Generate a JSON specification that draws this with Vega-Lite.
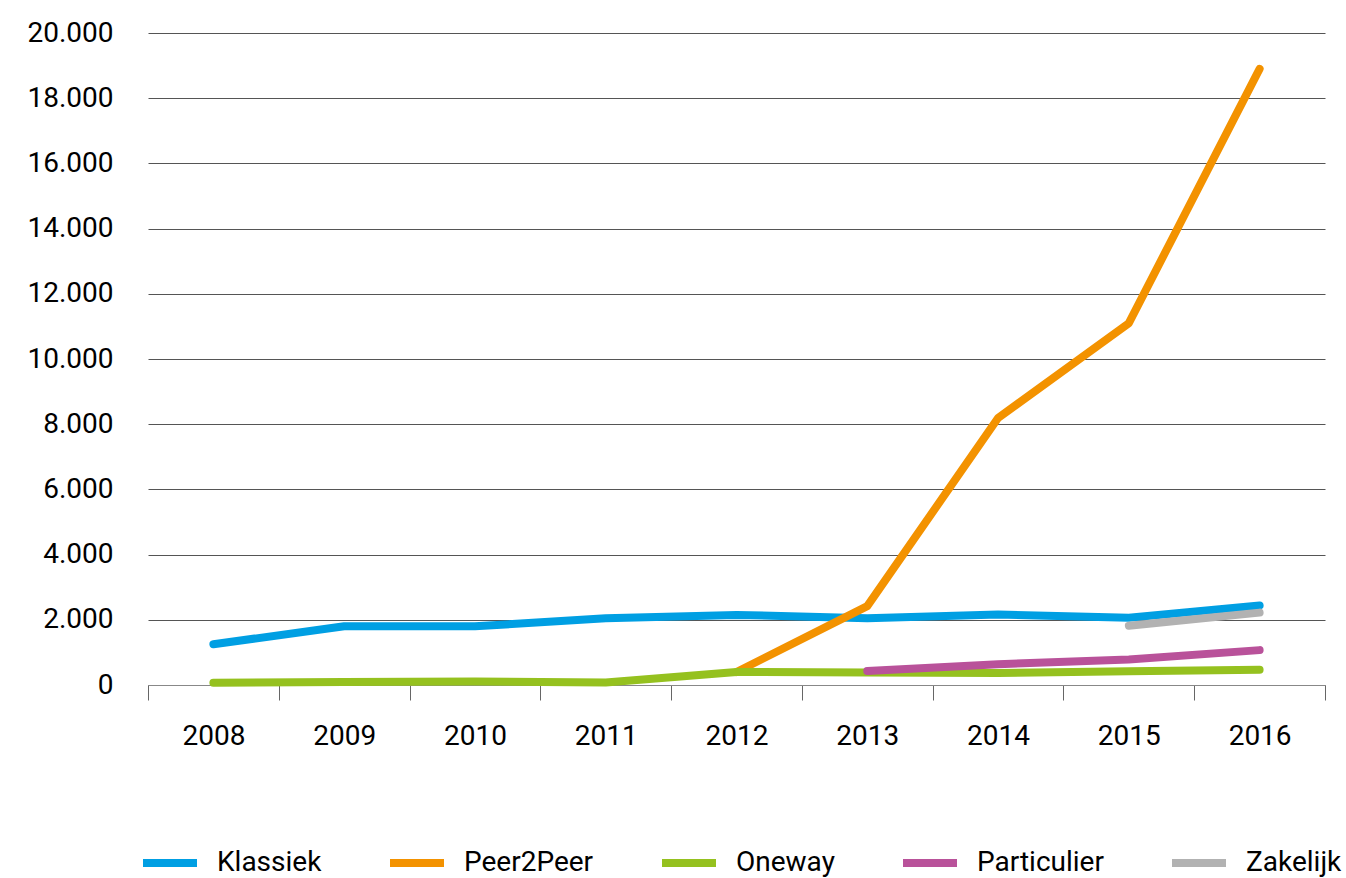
{
  "$schema": "https://vega.github.io/schema/vega-lite/v6.json",
  "width": 1177,
  "height": 652,
  "autosize": {"type": "none"},
  "padding": {"left": 148, "top": 33, "right": 21, "bottom": 193},
  "background": "white",
  "config": {
    "view": {"stroke": null},
    "font": "Roboto",
    "locale": {"number": {"decimal": ",", "thousands": ".", "grouping": [3], "currency": ["€", ""]}}
  },
  "data": {
    "values": [
      {"jaar": "2008", "reeks": "Klassiek", "waarde": 1250},
      {"jaar": "2009", "reeks": "Klassiek", "waarde": 1800},
      {"jaar": "2010", "reeks": "Klassiek", "waarde": 1800},
      {"jaar": "2011", "reeks": "Klassiek", "waarde": 2050},
      {"jaar": "2012", "reeks": "Klassiek", "waarde": 2150},
      {"jaar": "2013", "reeks": "Klassiek", "waarde": 2050},
      {"jaar": "2014", "reeks": "Klassiek", "waarde": 2160},
      {"jaar": "2015", "reeks": "Klassiek", "waarde": 2060},
      {"jaar": "2016", "reeks": "Klassiek", "waarde": 2440},
      {"jaar": "2012", "reeks": "Peer2Peer", "waarde": 400},
      {"jaar": "2013", "reeks": "Peer2Peer", "waarde": 2420},
      {"jaar": "2014", "reeks": "Peer2Peer", "waarde": 8190},
      {"jaar": "2015", "reeks": "Peer2Peer", "waarde": 11100},
      {"jaar": "2016", "reeks": "Peer2Peer", "waarde": 18900},
      {"jaar": "2008", "reeks": "Oneway", "waarde": 70},
      {"jaar": "2009", "reeks": "Oneway", "waarde": 90},
      {"jaar": "2010", "reeks": "Oneway", "waarde": 110},
      {"jaar": "2011", "reeks": "Oneway", "waarde": 80},
      {"jaar": "2012", "reeks": "Oneway", "waarde": 400},
      {"jaar": "2013", "reeks": "Oneway", "waarde": 380},
      {"jaar": "2014", "reeks": "Oneway", "waarde": 370},
      {"jaar": "2015", "reeks": "Oneway", "waarde": 420},
      {"jaar": "2016", "reeks": "Oneway", "waarde": 470},
      {"jaar": "2013", "reeks": "Particulier", "waarde": 430},
      {"jaar": "2014", "reeks": "Particulier", "waarde": 640},
      {"jaar": "2015", "reeks": "Particulier", "waarde": 780},
      {"jaar": "2016", "reeks": "Particulier", "waarde": 1070},
      {"jaar": "2015", "reeks": "Zakelijk", "waarde": 1820},
      {"jaar": "2016", "reeks": "Zakelijk", "waarde": 2220}
    ]
  },
  "mark": {"type": "line", "strokeWidth": 8, "strokeCap": "round", "strokeJoin": "round"},
  "encoding": {
    "x": {
      "field": "jaar",
      "type": "ordinal",
      "scale": {"type": "band", "paddingInner": 0, "paddingOuter": 0},
      "axis": {
        "title": null,
        "labelAngle": 0,
        "labelFontSize": 28,
        "labelColor": "#000000",
        "labelPadding": 22,
        "tickBand": "extent",
        "tickSize": 15,
        "tickColor": "#666666",
        "domainColor": "#888888",
        "grid": false
      }
    },
    "y": {
      "field": "waarde",
      "type": "quantitative",
      "scale": {"domain": [0, 20000], "nice": false},
      "axis": {
        "title": null,
        "values": [0, 2000, 4000, 6000, 8000, 10000, 12000, 14000, 16000, 18000, 20000],
        "format": ",d",
        "labelFontSize": 28,
        "labelColor": "#000000",
        "labelPadding": 35,
        "ticks": false,
        "domain": false,
        "grid": true,
        "gridColor": "#555555",
        "gridWidth": 1
      }
    },
    "color": {
      "field": "reeks",
      "type": "nominal",
      "sort": ["Klassiek", "Peer2Peer", "Oneway", "Particulier", "Zakelijk"],
      "scale": {
        "domain": ["Klassiek", "Peer2Peer", "Oneway", "Particulier", "Zakelijk"],
        "range": ["#009fe3", "#f39200", "#95c11f", "#b9529a", "#b2b2b2"]
      },
      "legend": {
        "title": null,
        "orient": "none",
        "direction": "horizontal",
        "legendX": -9,
        "legendY": 799,
        "symbolType": "stroke",
        "symbolSize": 2916,
        "symbolStrokeWidth": 8,
        "labelFontSize": 28,
        "labelColor": "#000000",
        "labelOffset": 16,
        "columnPadding": 52,
        "padding": 0
      }
    }
  }
}
